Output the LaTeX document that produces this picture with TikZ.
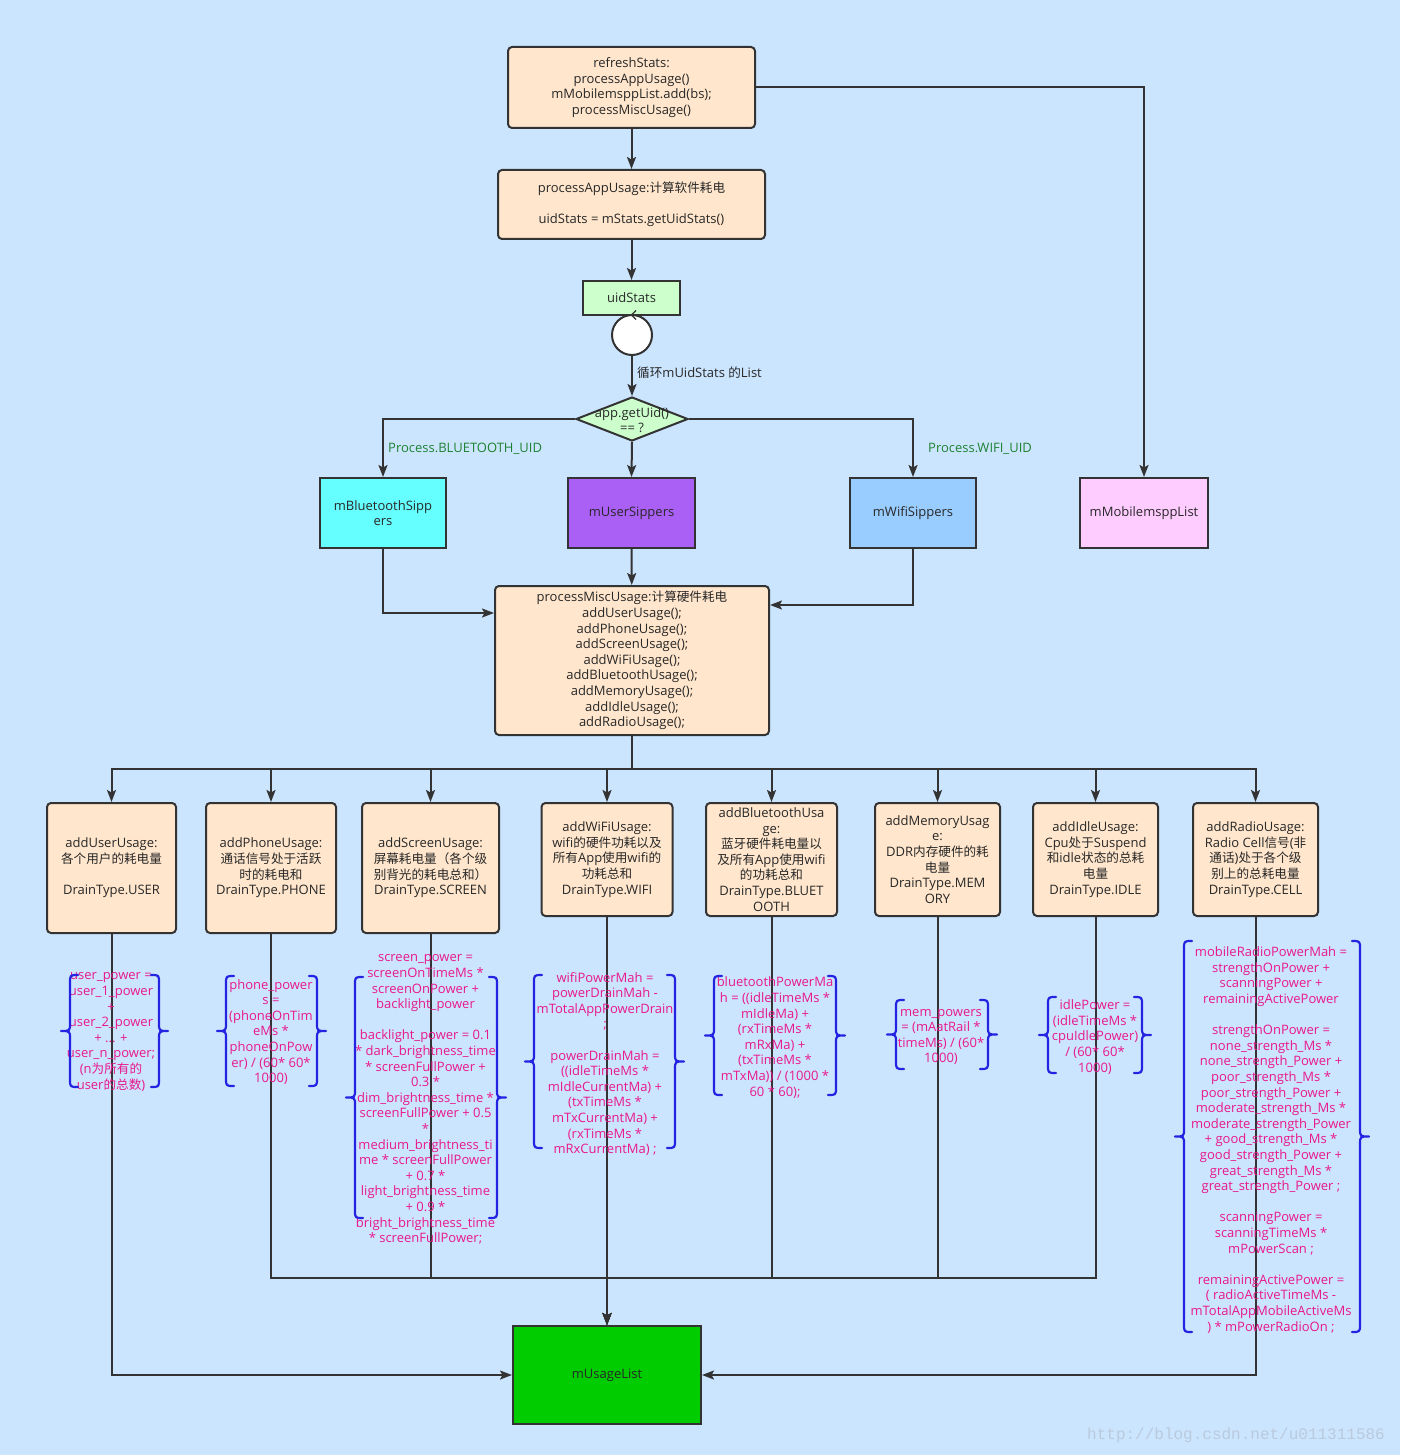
\documentclass[tikz,border=0pt]{standalone}
\usepackage{fontspec}
\setmainfont{Open Sans}
\newfontfamily\zhfont[Scale=0.97]{Noto Sans CJK SC}
\newfontfamily\wmfont{Liberation Mono}
\usetikzlibrary{arrows.meta,shapes.geometric,calc}
\newcommand{\zh}[1]{{\zhfont #1}}
\definecolor{bg}{RGB}{204,229,255}
\definecolor{peach}{RGB}{255,230,204}
\definecolor{lgreen}{RGB}{204,255,204}
\definecolor{cyanb}{RGB}{102,255,255}
\definecolor{purpb}{RGB}{170,95,245}
\definecolor{wifib}{RGB}{153,204,255}
\definecolor{pinkb}{RGB}{255,204,255}
\definecolor{greenb}{RGB}{0,204,0}
\definecolor{linec}{RGB}{51,51,51}
\definecolor{txtc}{RGB}{40,40,40}
\definecolor{fml}{RGB}{232,24,140}
\definecolor{brcc}{RGB}{35,35,225}
\definecolor{lblg}{RGB}{30,130,50}
\definecolor{wmc}{RGB}{185,202,220}
\newcommand{\mybrL}[3]{%
 \pgfmathsetmacro{\bym}{(#2+#3)/2}%
 \draw[brc] (#1+8,#2) .. controls (#1,#2) .. (#1,#2+8) -- (#1,\bym-8) .. controls (#1,\bym) .. (#1-9,\bym) .. controls (#1,\bym) .. (#1,\bym+8) -- (#1,#3-8) .. controls (#1,#3) .. (#1+8,#3);}
\newcommand{\mybrR}[3]{%
 \pgfmathsetmacro{\bym}{(#2+#3)/2}%
 \draw[brc] (#1-8,#2) .. controls (#1,#2) .. (#1,#2+8) -- (#1,\bym-8) .. controls (#1,\bym) .. (#1+9,\bym) .. controls (#1,\bym) .. (#1,\bym+8) -- (#1,#3-8) .. controls (#1,#3) .. (#1-8,#3);}
\tikzset{
 basetxt/.style={font=\fontsize{13pt}{15.6pt}\selectfont, text=txtc, align=center, inner sep=0pt},
 pbox/.style={basetxt, draw=linec, line width=2pt, rounded corners=4pt, fill=peach},
 sqbox/.style={basetxt, draw=linec, line width=2pt},
 fmla/.style={basetxt, text=fml, yshift=-2.5pt},
 conn/.style={draw=linec, line width=2pt},
 arr/.style={conn, -{Stealth[length=12pt,width=9pt,inset=2.5pt]}},
 brc/.style={draw=brcc, line width=2.2pt, line cap=round, line join=round},
 lbl/.style={basetxt, text=lblg, anchor=west, yshift=-1.5pt},
}
\begin{document}
\begin{tikzpicture}[x=1pt,y=-1pt]
\useasboundingbox (0,0) rectangle (1400,1455);
\fill[bg] (0,0) rectangle (1400,1455);

% top part
\node[pbox, minimum width=247pt, minimum height=81pt] (refresh) at (631.5,87.5) {refreshStats:\\processAppUsage()\\mMobilemsppList.add(bs);\\processMiscUsage()};
\node[pbox, minimum width=267pt, minimum height=69pt] (papp) at (631.5,204.5) {processAppUsage:\zh{计算软件耗电}\\[15.6pt]uidStats = mStats.getUidStats()};
\node[sqbox, fill=lgreen, minimum width=97pt, minimum height=34pt] (uid) at (631.5,298) {uidStats};
\node[circle, draw=linec, line width=2pt, fill=white, minimum size=40pt, inner sep=0pt] (loop) at (632,335) {};
\draw[conn, line width=1.3pt] (636,310.5) -- (631.5,315) -- (636,319.5);
\node[basetxt, anchor=west, yshift=-1.5pt] (looplbl) at (637,371) {\zh{循环}mUidStats \zh{的}List};
\node[diamond, draw=linec, line width=2pt, fill=lgreen, minimum width=112pt, minimum height=44pt, inner sep=0pt] (dia) at (632,419) {};
\node[basetxt] (diatxt) at (632,420) {app.getUid()\\== ?};

\node[sqbox, fill=cyanb, minimum width=126pt, minimum height=70pt] (bt) at (383,513) {mBluetoothSipp\\ers};
\node[sqbox, fill=purpb, minimum width=127pt, minimum height=70pt] (usr) at (631.5,513) {mUserSippers};
\node[sqbox, fill=wifib, minimum width=126pt, minimum height=70pt] (wifi) at (913,513) {mWifiSippers};
\node[sqbox, fill=pinkb, minimum width=128pt, minimum height=70pt] (mob) at (1144,513) {mMobilemsppList};

\node[lbl] (lbt) at (388,447) {Process.BLUETOOTH\_UID};
\node[lbl] (lwf) at (928,447) {Process.WIFI\_UID};

\draw[arr] (refresh.east) -| (mob.north);
\draw[arr] (refresh) -- (papp);
\draw[arr] (papp) -- (uid);
\draw[arr] (loop) -- (dia);
\draw[arr] (dia.west) -| (bt.north);
\draw[arr] (dia.east) -| (wifi.north);
\draw[arr] (dia.south) -- (usr.north);

\node[pbox, minimum width=274pt, minimum height=149pt] (misc) at (632,660.5) {processMiscUsage:\zh{计算硬件耗电}\\addUserUsage();\\addPhoneUsage();\\addScreenUsage();\\addWiFiUsage();\\addBluetoothUsage();\\addMemoryUsage();\\addIdleUsage();\\addRadioUsage();};
\draw[arr] (usr) -- (misc);
\draw[arr] (bt.south) |- ($(misc.north west)+(0,28)$);
\draw[arr] (wifi.south) |- ($(misc.north east)+(0,20)$);

% bottom boxes
\node[pbox, minimum width=129pt, minimum height=130pt] (uu) at (111.5,868) {addUserUsage:\\\zh{各个用户的耗电量}\\[15.6pt]DrainType.USER};
\node[pbox, minimum width=130pt, minimum height=130pt] (pu) at (271,868) {addPhoneUsage:\\\zh{通话信号处于活跃}\\\zh{时的耗电和}\\DrainType.PHONE};
\node[pbox, minimum width=137pt, minimum height=130pt] (su) at (430.5,868) {addScreenUsage:\\\zh{屏幕耗电量（各个级}\\\zh{别背光的耗电总和）}\\DrainType.SCREEN};
\node[pbox, minimum width=131pt, minimum height=113pt] (wu) at (607,859.5) {addWiFiUsage:\\wifi\zh{的硬件功耗以及}\\\zh{所有}App\zh{使用}wifi\zh{的}\\\zh{功耗总和}\\DrainType.WIFI};
\node[pbox, minimum width=131pt, minimum height=113pt] (bu) at (771.5,859.5) {addBluetoothUsa\\ge:\\\zh{蓝牙硬件耗电量以}\\\zh{及所有}App\zh{使用}wifi\\\zh{的功耗总和}\\DrainType.BLUET\\OOTH};
\node[pbox, minimum width=125pt, minimum height=113pt] (mu) at (937.5,859.5) {addMemoryUsag\\e:\\DDR\zh{内存硬件的耗}\\\zh{电量}\\DrainType.MEM\\ORY};
\node[pbox, minimum width=125pt, minimum height=113pt] (iu) at (1095.5,859.5) {addIdleUsage:\\Cpu\zh{处于}Suspend\\\zh{和}idle\zh{状态的总耗}\\\zh{电量}\\DrainType.IDLE};
\node[pbox, minimum width=125pt, minimum height=113pt] (ru) at (1255.5,859.5) {addRadioUsage:\\Radio Cell\zh{信号}(\zh{非}\\\zh{通话})\zh{处于各个级}\\\zh{别上的总耗电量}\\DrainType.CELL};

\coordinate (bus) at (632,769);
\draw[conn] (misc.south) -- (bus);
\foreach \n in {uu,pu,su,wu,bu,mu,iu,ru} \draw[arr] (bus) -| (\n.north);

\node[sqbox, fill=greenb, minimum width=188pt, minimum height=98pt] (ul) at (607,1375) {mUsageList};
\coordinate (bus2) at (607,1278);
\draw[arr] (uu.south) |- (ul.west);
\draw[arr] (ru.south) |- (ul.east);
\foreach \n in {pu,su,bu,mu,iu} \draw[arr] (\n.south) |- (bus2) -- (ul.north);
\draw[arr] (wu.south) -- (ul.north);

% formulas
\node[fmla] (f1) at (111,1029.5) {user\_power =\\user\_1\_power\\+\\user\_2\_power\\+ ... +\\user\_n\_power;\\(n\zh{为所有的}\\user\zh{的总数})};
\node[fmla] (f2) at (271,1029.5) {phone\_power\\s =\\(phoneOnTim\\eMs *\\phoneOnPow\\er) / (60* 60*\\1000)};
\node[fmla] (f3) at (425.5,1097) {screen\_power =\\screenOnTimeMs *\\screenOnPower +\\backlight\_power\\[15.6pt]backlight\_power = 0.1\\* dark\_brightness\_time\\* screenFullPower +\\0.3 *\\dim\_brightness\_time *\\screenFullPower + 0.5\\*\\medium\_brightness\_ti\\me * screenFullPower\\+ 0.7 *\\light\_brightness\_time\\+ 0.9 *\\bright\_brightness\_time\\* screenFullPower;};
\node[fmla] (f4) at (605,1061.5) {wifiPowerMah =\\powerDrainMah -\\mTotalAppPowerDrain\\;\\[15.6pt]powerDrainMah =\\((idleTimeMs *\\mIdleCurrentMa) +\\(txTimeMs *\\mTxCurrentMa) +\\(rxTimeMs *\\mRxCurrentMa) ;};
\node[fmla] (f5) at (775,1035) {bluetoothPowerMa\\h = ((idleTimeMs *\\mIdleMa) +\\(rxTimeMs *\\mRxMa) +\\(txTimeMs *\\mTxMa)) / (1000 *\\60 * 60);};
\node[fmla] (f6) at (941,1034.5) {mem\_powers\\= (mAatRail *\\timeMs) / (60*\\1000)};
\node[fmla] (f7) at (1095,1034.5) {idlePower =\\(idleTimeMs *\\cpuIdlePower)\\/ (60* 60*\\1000)};
\node[fmla] (f8) at (1271,1137.5) {mobileRadioPowerMah =\\strengthOnPower +\\scanningPower +\\remainingActivePower\\[15.6pt]strengthOnPower =\\none\_strength\_Ms *\\none\_strength\_Power +\\poor\_strength\_Ms *\\poor\_strength\_Power +\\moderate\_strength\_Ms *\\moderate\_strength\_Power\\+ good\_strength\_Ms *\\good\_strength\_Power +\\great\_strength\_Ms *\\great\_strength\_Power ;\\[15.6pt]scanningPower =\\scanningTimeMs *\\mPowerScan ;\\[15.6pt]remainingActivePower =\\( radioActiveTimeMs -\\mTotalAppMobileActiveMs\\) * mPowerRadioOn ;};

% braces
\mybrL{70}{975}{1087}\mybrR{159}{975}{1087}
\mybrL{226}{976}{1086}\mybrR{317}{976}{1086}
\mybrL{355}{977}{1218}\mybrR{497}{977}{1218}
\mybrL{534}{975}{1148}\mybrR{675}{975}{1148}
\mybrL{714}{976}{1095}\mybrR{836}{976}{1095}
\mybrL{896}{1000}{1069}\mybrR{988}{1000}{1069}
\mybrL{1048}{997}{1073}\mybrR{1142}{997}{1073}
\mybrL{1184}{941}{1332}\mybrR{1360}{941}{1332}

\node[font=\wmfont\fontsize{16pt}{16pt}\selectfont, text=wmc, anchor=west, inner sep=0pt] (wm) at (1087,1435) {http://blog.csdn.net/u011311586};
\end{tikzpicture}
\end{document}
